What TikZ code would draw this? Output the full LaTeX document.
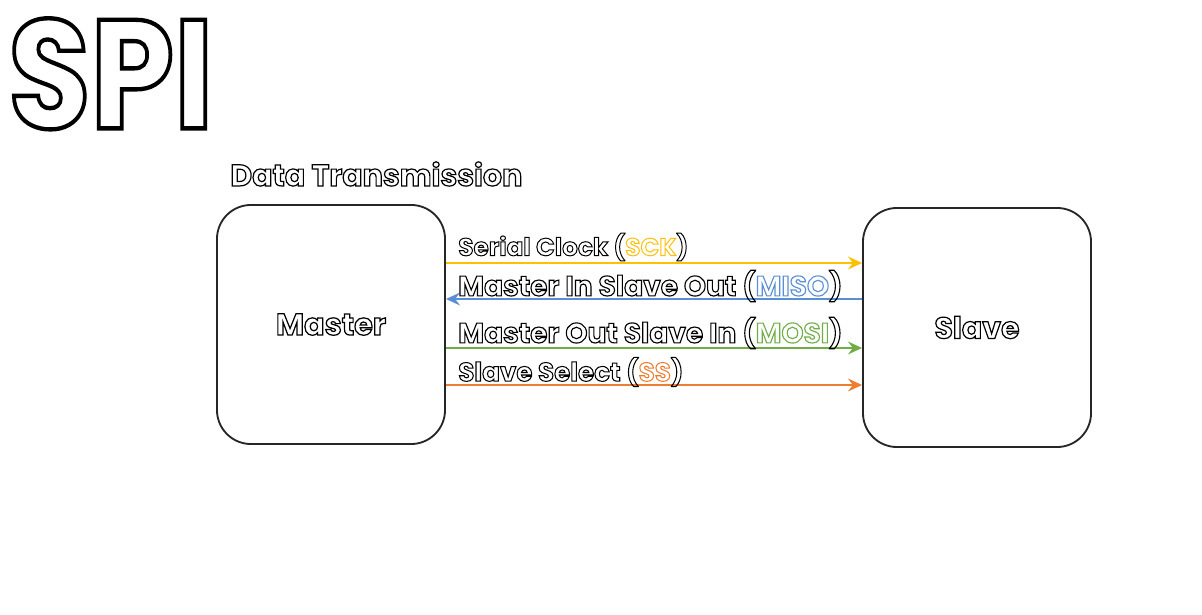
\documentclass[tikz,border=0pt]{standalone}
\usepackage{fontspec}
\usetikzlibrary{arrows.meta}
\newfontfamily\cartoon{Poppins}
\definecolor{sckc}{HTML}{FFC000}
\definecolor{misoc}{HTML}{5B8FD5}
\definecolor{mosic}{HTML}{70AD47}
\definecolor{ssc}{HTML}{ED7D31}
\newcommand{\olt}[2][0.4]{\special{pdf:literal direct 1 Tr #1 w}#2\special{pdf:literal direct 0 Tr}}
\tikzset{
  unitbox/.style={draw=black!85,line width=1.3pt,rounded corners=0.85cm,minimum width=5.7cm,minimum height=5.975cm,inner sep=0pt,font=\cartoon\bfseries},
  lab/.style={anchor=west,inner sep=0pt,font=\cartoon\bfseries},
  sig/.style={line width=1.4pt,-{Stealth[length=3.5mm,width=3.2mm,inset=1.2mm]}},
}
\begin{document}
\begin{tikzpicture}[x=0.025cm,y=-0.025cm]
\useasboundingbox[fill=white] (0,0) rectangle (1202,615);
\node[inner sep=0pt,anchor=north west,font=\cartoon\bfseries] (title) at (8,18) {\resizebox{5.125cm}{2.75cm}{\olt[0.28]{SPI}}};
\node[lab] (sub) at (230,174) {\resizebox{7.3cm}{!}{\olt{Data Transmission}}};
\node[unitbox] (master) at (331,324.5) {\resizebox{2.75cm}{!}{\olt{Master}}};
\node[unitbox] (slave) at (977,327.5) {\resizebox{2.125cm}{!}{\olt{Slave}}};
\draw[sig,sckc] (master.east |- 0,263) -- (slave.west |- 0,263);
\draw[sig,misoc] (slave.west |- 0,299) -- (master.east |- 0,299);
\draw[sig,mosic] (master.east |- 0,348) -- (slave.west |- 0,348);
\draw[sig,ssc] (master.east |- 0,385) -- (slave.west |- 0,385);
\node[lab] (lsck) at (458,247) {\resizebox{5.75cm}{!}{\olt{Serial Clock (}\textcolor{sckc}{\olt{SCK}}\olt{)}}};
\node[lab] (lmiso) at (458,286) {\resizebox{9.6cm}{!}{\olt{Master In Slave Out (}\textcolor{misoc}{\olt{MISO}}\olt{)}}};
\node[lab] (lmosi) at (458,333) {\resizebox{9.6cm}{!}{\olt{Master Out Slave In (}\textcolor{mosic}{\olt{MOSI}}\olt{)}}};
\node[lab] (lss) at (458,372) {\resizebox{5.625cm}{!}{\olt{Slave Select (}\textcolor{ssc}{\olt{SS}}\olt{)}}};
\end{tikzpicture}
\end{document}
